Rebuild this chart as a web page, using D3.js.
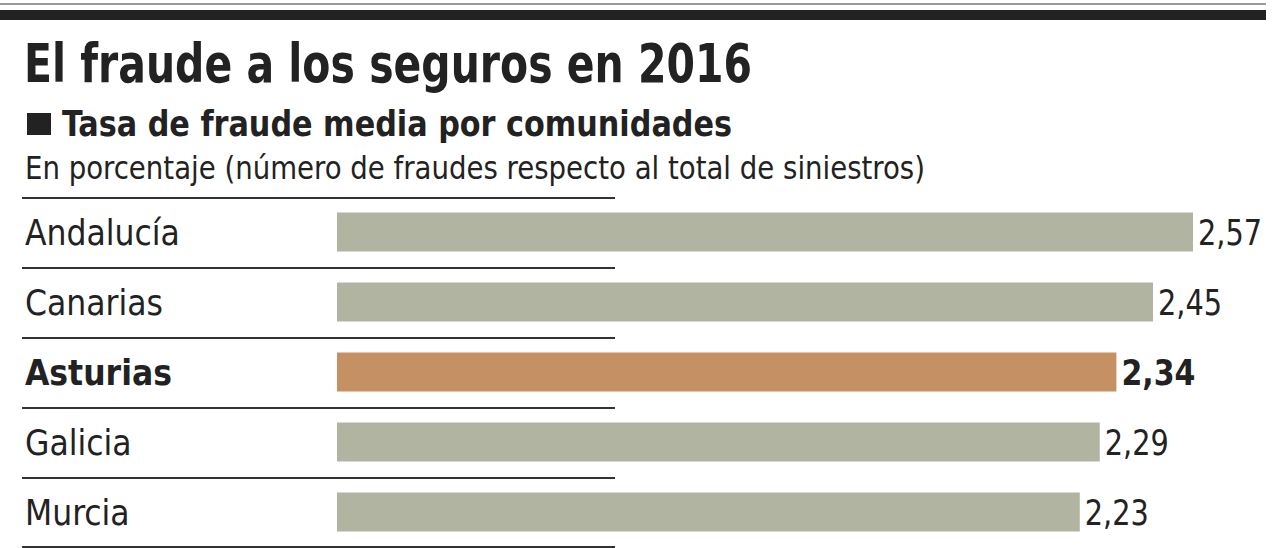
<!DOCTYPE html>
<html>
<head>
<meta charset="utf-8">
<script src="https://cdn.jsdelivr.net/npm/d3@7"></script>
<style>
  body { margin: 0; background: #fff; }
  text { font-family: "Liberation Sans Narrow", "DejaVu Sans Condensed", "Roboto", sans-serif; fill: #222; }
</style>
</head>
<body>
<div id="chart"></div>
<script>
var regiones = ["Andalucía", "Canarias", "Asturias", "Galicia", "Murcia"];
var tasas = [2.57, 2.45, 2.34, 2.29, 2.23];
var destacada = "Asturias";

var width = 1280, height = 548;
var greyBar = "#b1b4a1";
var highlightBar = "#c59162";

var svg = d3.select("#chart").append("svg")
    .attr("width", width)
    .attr("height", height);

// cabecera
svg.append("rect").attr("x", 0).attr("y", 3).attr("width", 1266).attr("height", 2).attr("fill", "#999");
svg.append("rect").attr("x", 0).attr("y", 10).attr("width", 1266).attr("height", 10).attr("fill", "#222");

svg.append("text")
    .attr("x", 24).attr("y", 82)
    .attr("textLength", 728).attr("lengthAdjust", "spacingAndGlyphs")
    .style("font-size", "54px").style("font-weight", "bold")
    .text("El fraude a los seguros en 2016");

svg.append("rect").attr("x", 27).attr("y", 113).attr("width", 24).attr("height", 22).attr("fill", "#222");
svg.append("text")
    .attr("x", 62).attr("y", 136)
    .attr("textLength", 670).attr("lengthAdjust", "spacingAndGlyphs")
    .style("font-size", "35px").style("font-weight", "bold")
    .text("Tasa de fraude media por comunidades");

svg.append("text")
    .attr("x", 25).attr("y", 179)
    .attr("textLength", 900).attr("lengthAdjust", "spacingAndGlyphs")
    .style("font-size", "32px")
    .text("En porcentaje (número de fraudes respecto al total de siniestros)");

var data = regiones.map((r, i) => ({ r: r, v: tasas[i] }));

var y = d3.scaleBand()
    .domain(regiones)
    .range([198, 548])
    .padding(0);

var x = d3.scaleLinear()
    .domain([0, d3.max(tasas)])
    .range([337, 1193]);

var barH = 39;

// separadores
svg.selectAll(".sep")
    .data(d3.range(regiones.length + 1))
    .enter().append("line")
    .attr("class", "sep")
    .attr("x1", 22).attr("x2", 615)
    .attr("y1", i => 198 + i * y.step() - (i == regiones.length ? 1 : 0))
    .attr("y2", i => 198 + i * y.step() - (i == regiones.length ? 1 : 0))
    .attr("stroke", "#333").attr("stroke-width", 2);

svg.selectAll(".bar")
    .data(data)
    .enter().append("rect")
    .attr("class", "bar")
    .attr("x", x(0))
    .attr("y", d => y(d.r) + (y.bandwidth() - barH) / 2 - 1)
    .attr("width", d => x(d.v) - x(0))
    .attr("height", barH)
    .attr("fill", d => d.r === destacada ? highlightBar : greyBar);

svg.selectAll(".cat")
    .data(data)
    .enter().append("text")
    .attr("class", "cat")
    .attr("x", 25)
    .attr("y", d => y(d.r) + y.bandwidth() / 2 + 12)
    .style("font-size", "35px")
    .style("font-weight", d => d.r === destacada ? "bold" : "normal")
    .text(d => d.r);

svg.selectAll(".label")
    .data(data)
    .enter().append("text")
    .attr("class", "label")
    .attr("x", d => x(d.v) + 5)
    .attr("y", d => y(d.r) + y.bandwidth() / 2 + 12)
    .attr("textLength", d => d.r === destacada ? 74 : 64)
    .attr("lengthAdjust", "spacingAndGlyphs")
    .style("font-size", "36px")
    .style("font-weight", d => d.r === destacada ? "bold" : "normal")
    .text(d => d3.format(".2f")(d.v).replace(".", ","));
</script>
</body>
</html>
